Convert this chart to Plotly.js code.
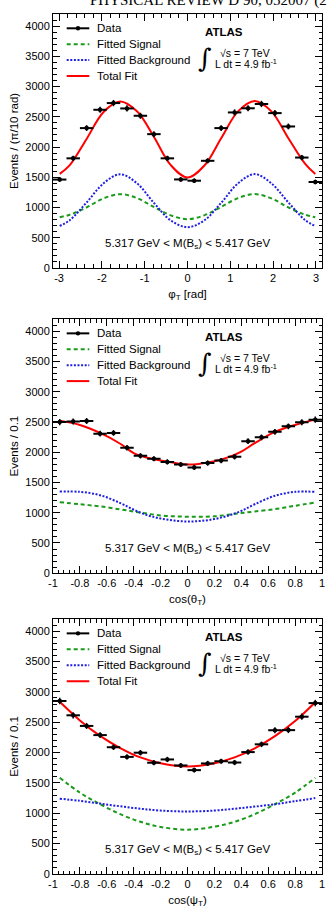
<!DOCTYPE html>
<html>
<head>
<meta charset="utf-8">
<script src="https://cdn.plot.ly/plotly-3.0.1.min.js"></script>
<style>
  html, body { margin: 0; padding: 0; background: #fff; }
  #chart { width: 327px; height: 913px; }
</style>
</head>
<body>
<div id="chart"></div>
<script>
// ---- Bin centres ----
const phiBins = [-2.985, -2.670, -2.356, -2.042, -1.728, -1.414, -1.100, -0.785, -0.471, -0.157,
                 0.157, 0.471, 0.785, 1.100, 1.414, 1.728, 2.042, 2.356, 2.670, 2.985];
const cosBins = [-0.95, -0.85, -0.75, -0.65, -0.55, -0.45, -0.35, -0.25, -0.15, -0.05,
                 0.05, 0.15, 0.25, 0.35, 0.45, 0.55, 0.65, 0.75, 0.85, 0.95];
const phiBinWidth = Math.PI / 10;
const cosBinWidth = 0.1;

// ---- Events per bin ----
const phiData = [1462, 1813, 2313, 2616, 2727, 2638, 2517, 2213, 1813, 1464,
                 1443, 1772, 2313, 2572, 2641, 2712, 2561, 2340, 1826, 1422];
const phiErr = [38, 43, 48, 51, 52, 51, 50, 47, 43, 38, 38, 42, 48, 51, 51, 52, 51, 48, 43, 38];

const cosThetaData = [2497, 2507, 2516, 2306, 2318, 2075, 1940, 1892, 1840, 1796,
                      1749, 1821, 1862, 1925, 2182, 2245, 2337, 2427, 2494, 2538];
const cosThetaErr = [50, 50, 50, 48, 48, 46, 44, 43, 43, 42, 42, 43, 43, 44, 47, 47, 48, 49, 50, 50];

const cosPsiData = [2850, 2614, 2439, 2288, 2088, 1929, 1998, 1833, 1887, 1788,
                    1711, 1821, 1857, 1836, 2008, 2136, 2368, 2370, 2591, 2815];
const cosPsiErr = [53, 51, 49, 48, 46, 44, 45, 43, 43, 42, 41, 43, 43, 43, 45, 46, 49, 49, 51, 53];

// ---- Fit projections (sampled curves) ----
const phiCurveX = [-2.985, -2.75, -2.36, -1.96, -1.57, -1.18, -0.79, -0.39, 0,
                   0.39, 0.79, 1.18, 1.57, 1.96, 2.36, 2.75, 2.985];
const phiSignal = [840, 880, 1000, 1150, 1220, 1155, 1010, 870, 806, 870, 1010, 1155, 1222, 1150, 1000, 880, 838];
const phiBackground = [695, 790, 1080, 1400, 1550, 1400, 1080, 785, 675, 785, 1080, 1400, 1552, 1400, 1080, 790, 695];
const phiTotal = [1555, 1700, 2130, 2580, 2752, 2590, 2175, 1700, 1495, 1690, 2150, 2590, 2762, 2590, 2140, 1720, 1552];

const cosThetaCurveX = [-0.95, -0.8, -0.65, -0.5, -0.4, -0.3, -0.2, -0.1, 0,
                        0.1, 0.2, 0.3, 0.4, 0.5, 0.65, 0.8, 0.95];
const cosThetaSignal = [1175, 1140, 1105, 1055, 1020, 985, 955, 940, 935, 935, 940, 965, 995, 1020, 1060, 1115, 1170];
const cosThetaBackground = [1350, 1345, 1290, 1160, 1050, 960, 905, 870, 855, 865, 895, 950, 1030, 1140, 1280, 1345, 1345];
const cosThetaTotal = [2522, 2450, 2318, 2140, 1985, 1910, 1862, 1825, 1795, 1812, 1850, 1915, 2010, 2150, 2335, 2450, 2538];

const cosPsiCurveX = [-0.95, -0.8, -0.65, -0.5, -0.35, -0.2, 0, 0.2, 0.35, 0.5, 0.65, 0.8, 0.95];
const cosPsiSignal = [1585, 1340, 1150, 985, 860, 775, 730, 780, 860, 985, 1150, 1340, 1585];
const cosPsiBackground = [1240, 1205, 1160, 1115, 1075, 1045, 1030, 1045, 1075, 1110, 1150, 1200, 1250];
const cosPsiTotal = [2836, 2530, 2275, 2075, 1920, 1825, 1772, 1825, 1920, 2070, 2270, 2520, 2830];

// ---- Tick labels ----
const phiTickVals = [-3, -2, -1, 0, 1, 2, 3];
const phiTickText = ['-3', '-2', '-1', '0', '1', '2', '3'];
const cosTickVals = [-1, -0.8, -0.6, -0.4, -0.2, 0, 0.2, 0.4, 0.6, 0.8, 1];
const cosTickText = ['-1', '-0.8', '-0.6', '-0.4', '-0.2', '0', '0.2', '0.4', '0.6', '0.8', '1'];
const yTickVals = [0, 500, 1000, 1500, 2000, 2500, 3000, 3500, 4000];
const yTickText = ['0', '500', '1000', '1500', '2000', '2500', '3000', '3500', '4000'];

// ---- Text ----
const legendLabels = ['Data', 'Fitted Signal', 'Fitted Background', 'Total Fit'];
const massWindow = '5.317 GeV < M(B<sub>s</sub>) < 5.417 GeV';
const xTitles = ['\u03c6<sub>T</sub> [rad]', 'cos(\u03b8<sub>T</sub>)', 'cos(\u03c8<sub>T</sub>)'];
const yTitles = ['Events / (\u03c0/10 rad)', 'Events / 0.1', 'Events / 0.1'];
const pageHeader = 'PHYSICAL REVIEW D 90, 052007 (2014)';

// ---- Styling ----
const FONT = 'Liberation Sans, Arial, Helvetica, sans-serif';
const RED = '#ff0000';
const GREEN = '#1a9a1a';
const BLUE = '#1f1fe0';
const SIGNAL_DASH = '4px,3px';
const BKG_DASH = '2px,1.6px';

const panels = [
  { x: phiBins, y: phiData, err: phiErr, half: phiBinWidth / 2,
    cx: phiCurveX, sig: phiSignal, bkg: phiBackground, tot: phiTotal,
    range: [-Math.PI, Math.PI], tv: phiTickVals, tt: phiTickText, minor: 0.2,
    domain: [0.7047, 1] },
  { x: cosBins, y: cosThetaData, err: cosThetaErr, half: cosBinWidth / 2,
    cx: cosThetaCurveX, sig: cosThetaSignal, bkg: cosThetaBackground, tot: cosThetaTotal,
    range: [-1, 1], tv: cosTickVals, tt: cosTickText, minor: 0.04,
    domain: [0.3497, 0.6453] },
  { x: cosBins, y: cosPsiData, err: cosPsiErr, half: cosBinWidth / 2,
    cx: cosPsiCurveX, sig: cosPsiSignal, bkg: cosPsiBackground, tot: cosPsiTotal,
    range: [-1, 1], tv: cosTickVals, tt: cosTickText, minor: 0.04,
    domain: [0, 0.2965] }
];

const traces = [];
const shapes = [];
const annotations = [];
const layout = {
  width: 327, height: 913,
  margin: { l: 53, r: 5, t: 14, b: 39 },
  paper_bgcolor: '#fff', plot_bgcolor: '#fff',
  showlegend: false,
  font: { family: FONT, size: 11, color: '#000' }
};

function axisCommon() {
  return {
    showline: true, linecolor: '#000', linewidth: 1, mirror: 'ticks',
    ticks: 'inside', ticklen: 7, tickwidth: 1, tickcolor: '#000',
    showgrid: false, zeroline: false, fixedrange: true,
    tickfont: { family: FONT, size: 11, color: '#000' },
    tickmode: 'array'
  };
}

panels.forEach((p, i) => {
  const n = i === 0 ? '' : String(i + 1);
  const xa = 'x' + n, ya = 'y' + n;

  // fitted components
  traces.push({ x: p.cx, y: p.sig, xaxis: xa, yaxis: ya, type: 'scatter', mode: 'lines',
    line: { color: GREEN, width: 2, dash: SIGNAL_DASH, shape: 'spline', smoothing: 1 },
    name: legendLabels[1], hoverinfo: 'skip' });
  traces.push({ x: p.cx, y: p.bkg, xaxis: xa, yaxis: ya, type: 'scatter', mode: 'lines',
    line: { color: BLUE, width: 2, dash: BKG_DASH, shape: 'spline', smoothing: 1 },
    name: legendLabels[2], hoverinfo: 'skip' });
  traces.push({ x: p.cx, y: p.tot, xaxis: xa, yaxis: ya, type: 'scatter', mode: 'lines',
    line: { color: RED, width: 2, shape: 'spline', smoothing: 1 },
    name: legendLabels[3], hoverinfo: 'skip' });
  // data points
  traces.push({ x: p.x, y: p.y, xaxis: xa, yaxis: ya, type: 'scatter', mode: 'markers',
    marker: { color: '#000', size: 4.5 },
    error_x: { type: 'constant', value: p.half, color: '#000', thickness: 2, width: 0 },
    error_y: { type: 'data', array: p.err, color: '#000', thickness: 1.5, width: 0 },
    name: legendLabels[0] });

  layout['xaxis' + n] = Object.assign(axisCommon(), {
    anchor: ya, domain: [0, 1], range: p.range,
    tickvals: p.tv, ticktext: p.tt,
    minor: { ticks: 'inside', ticklen: 3.5, tickwidth: 1, tickcolor: '#000', dtick: p.minor, tick0: 0 },
    title: { text: xTitles[i], font: { family: FONT, size: 11.5, color: '#000' }, standoff: 6 }
  });
  layout['yaxis' + n] = Object.assign(axisCommon(), {
    anchor: xa, domain: p.domain, range: [0, 4200],
    tickvals: yTickVals, ticktext: yTickText,
    minor: { ticks: 'inside', ticklen: 3.5, tickwidth: 1, tickcolor: '#000', dtick: 100, tick0: 0 },
    title: { text: yTitles[i], font: { family: FONT, size: 11.5, color: '#000' }, standoff: 4 }
  });

  const xr = xa + ' domain', yr = ya + ' domain';
  // legend block (upper left)
  const rows = [0.9437, 0.8811, 0.8185, 0.7559];
  const lx0 = 0.0509, lx1 = 0.1349, tx = 0.1561;
  const styles = [
    { color: '#000', width: 2, dash: 'solid' },
    { color: GREEN, width: 2, dash: SIGNAL_DASH },
    { color: BLUE, width: 2, dash: BKG_DASH },
    { color: RED, width: 2, dash: 'solid' }
  ];
  rows.forEach((ry, k) => {
    shapes.push({ type: 'line', xref: xr, yref: yr, x0: lx0, x1: lx1, y0: ry, y1: ry, line: styles[k] });
    annotations.push({ xref: xr, yref: yr, x: tx, y: ry, xanchor: 'left', yanchor: 'middle',
      text: legendLabels[k], showarrow: false, font: { family: FONT, size: 11.5, color: '#000' } });
  });
  const cxm = (lx0 + lx1) / 2;
  shapes.push({ type: 'circle', xref: xr, yref: yr, x0: cxm - 2.2 / 269, x1: cxm + 2.2 / 269,
    y0: rows[0] - 2.2 / 254, y1: rows[0] + 2.2 / 254, fillcolor: '#000', line: { width: 0 } });

  // experiment label
  annotations.push({ xref: xr, yref: yr, x: 0.5576, y: 0.9303, xanchor: 'left', yanchor: 'middle',
    text: '<b>ATLAS</b>', showarrow: false, font: { family: FONT, size: 11.5, color: '#000' } });
  annotations.push({ xref: xr, yref: yr, x: 0.565, y: 0.826, xanchor: 'center', yanchor: 'middle',
    text: '\u222b', showarrow: false, font: { family: 'DejaVu Serif, serif', size: 26, color: '#000' } });
  annotations.push({ xref: xr, yref: yr, x: 0.6134, y: 0.8476, xanchor: 'left', yanchor: 'middle',
    text: '\u221as = 7 TeV', showarrow: false, font: { family: FONT, size: 10.5, color: '#000' } });
  annotations.push({ xref: xr, yref: yr, x: 0.596, y: 0.805, xanchor: 'left', yanchor: 'middle',
    text: 'L dt = 4.9 fb<sup>-1</sup>', showarrow: false, font: { family: FONT, size: 10.5, color: '#000' } });

  // mass window
  annotations.push({ xref: xr, yref: yr, x: 0.5, y: 0.0945, xanchor: 'center', yanchor: 'middle',
    text: massWindow, showarrow: false, font: { family: FONT, size: 11.5, color: '#000' } });
});

// running header of the page, trimmed by the top edge
annotations.push({ xref: 'paper', yref: 'paper', x: 0.1301, y: 1.0035, xanchor: 'left', yanchor: 'bottom',
  text: pageHeader, showarrow: false,
  font: { family: 'Liberation Serif, Times New Roman, serif', size: 15, color: '#000' } });

layout.shapes = shapes;
layout.annotations = annotations;

Plotly.newPlot('chart', traces, layout, { displayModeBar: false, staticPlot: true });
</script>
</body>
</html>
